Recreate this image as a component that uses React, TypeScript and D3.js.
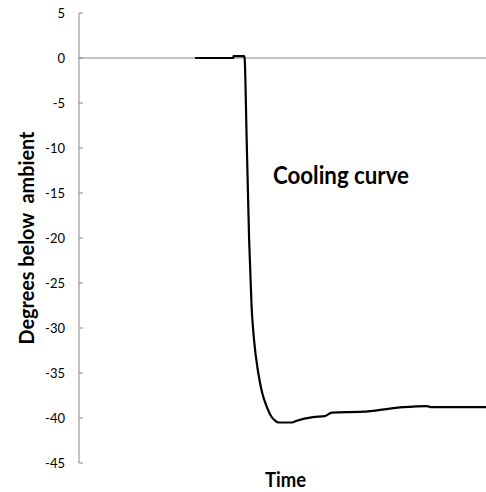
import React from "react";
import * as d3 from "d3";

const yTicks = [5, 0, -5, -10, -15, -20, -25, -30, -35, -40, -45];
const timeValues = [28.5, 37.9, 37.95, 40.6, 40.7, 41.2, 41.8, 42.4, 43.0, 44.05, 45.0, 46.1, 47.3, 48.2, 49.0, 52.3, 53.5, 57.5, 60.4, 61.2, 62.1, 69.8, 72.2, 79.6, 85.4, 86.7, 100];
const tempValues = [0, 0, 0.2, 0.2, -0.05, -9.1, -20.2, -27.6, -31.3, -35.0, -37.2, -38.7, -39.86, -40.3, -40.5, -40.5, -40.3, -39.9, -39.8, -39.6, -39.4, -39.3, -39.2, -38.8, -38.67, -38.8, -38.8];
const chartTitle = "Cooling curve";
const xTitle = "Time";
const yTitle = "Degrees below  ambient";

export default function App() {
  const W = 486, H = 492;
  const x = d3.scaleLinear().domain([0, 100]).range([79, 486]);
  const y = d3.scaleLinear().domain([-45, 5]).range([463, 13]);
  const pts: [number, number][] = timeValues.map((t, i) => [t, tempValues[i]]);
  const gen = d3.line<[number, number]>().x(d => x(d[0])).y(d => y(d[1])).curve(d3.curveMonotoneX);
  const font = "Lato, 'Open Sans', sans-serif";
  const axisColor = "#868686";
  return (
    <svg width={W} height={H} style={{ position: "absolute", left: 0, top: 0, background: "#fff" }}>
      <line x1={x(0)} x2={x(0)} y1={y(5)} y2={y(-45)} stroke={axisColor} strokeWidth={1} />
      {yTicks.map(v => (
        <g key={v}>
          <line x1={x(0)} x2={x(0) + 4} y1={y(v)} y2={y(v)} stroke={axisColor} strokeWidth={1} />
          <text x={65} y={y(v)} dy="0.35em" textAnchor="end" fontFamily={font} fontSize={13} fill="#000">{v}</text>
        </g>
      ))}
      <line x1={x(0)} x2={x(100)} y1={y(0)} y2={y(0)} stroke={axisColor} strokeWidth={1} />
      <path d={gen(pts) || ""} fill="none" stroke="#000" strokeWidth={2.2} strokeLinejoin="round" />
      <text x={273} y={184} fontFamily={font} fontWeight={700} fontSize={24} textLength={136} lengthAdjust="spacingAndGlyphs">{chartTitle}</text>
      <text x={285.5} y={487} textAnchor="middle" fontFamily={font} fontWeight={700} fontSize={20} textLength={41} lengthAdjust="spacingAndGlyphs">{xTitle}</text>
      <text transform={`translate(34,238) rotate(-90)`} textAnchor="middle" fontFamily={font} fontWeight={700} fontSize={20} textLength={213} lengthAdjust="spacingAndGlyphs" style={{ whiteSpace: "pre" }}>{yTitle}</text>
    </svg>
  );
}
